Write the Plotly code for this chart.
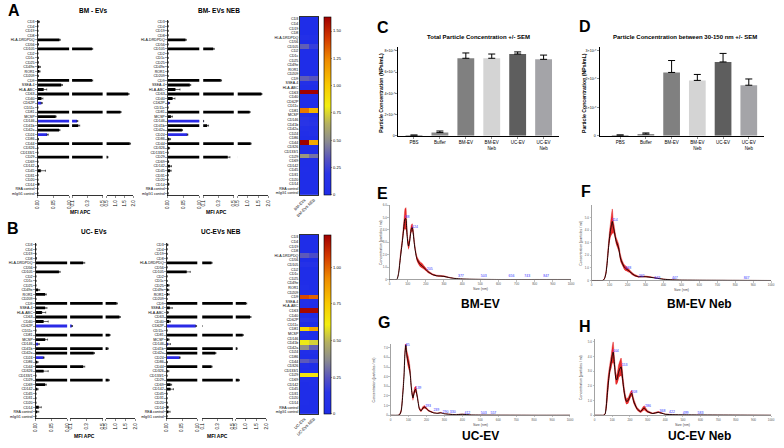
import plotly.graph_objects as go

W, H = 784, 448
def fx(p): return p / W
def fy(p): return 1 - p / H

FONT = "Liberation Sans, Arial, sans-serif"
BLUE = "#2a2ae6"

# ---------------- data: flow-cytometry markers (panels A/B) ----------------
cats = ["CD3", "CD4", "CD19", "CD8", "HLA-DRDPDQ", "CD56", "CD105", "CD2", "CD1c", "CD25",
        "CD49e", "ROR1", "CD209", "CD9", "SSEA-4", "HLA-ABC", "CD63", "CD40", "CD62P", "CD11c",
        "CD81", "MCSP", "CD146", "CD41b", "CD42a", "CD24", "CD86", "CD44", "CD326", "CD133/1",
        "CD29", "CD69", "CD142", "CD45", "CD31", "CD20", "CD14", "REA control", "mIgG1 control"]
blue_cats = ["CD62P", "CD146", "CD24"]

bm_ev = [0.003, 0.001, 0.001, 0.001, 0.069, 0.002, 0.36, 0.001, 0.002, 0.002,
         0.005, 0.005, 0.002, 0.36, 0.075, 0.019, 1.72, 0.012, 0.012, 0.001,
         1.28, 0.057, 0.165, 0.18, 0.068, 0.03, 0.002, 1.8, 0.001, 0.001,
         0.55, 0.001, 0.002, 0.01, 0.001, 0.001, 0.003, 0.001, 0.001]
bm_ev_err = [0.003, 0, 0, 0, 0.003, 0.001, 0.01, 0, 0, 0,
             0.004, 0.003, 0, 0.01, 0.004, 0.01, 0.05, 0.005, 0.003, 0,
             0.04, 0.002, 0.01, 0.02, 0.003, 0.004, 0.001, 0.05, 0, 0,
             0.03, 0, 0.001, 0.015, 0, 0, 0.002, 0, 0]
bm_neb = [0.001, 0.001, 0.001, 0.001, 0.056, 0.001, 0.23, 0.001, 0.001, 0.001,
          0.001, 0.001, 0.001, 0.33, 0.07, 0.024, 1.66, 0.015, 0.004, 0.001,
          1.08, 0.01, 0.102, 0.15, 0.045, 0.062, 0.005, 1.13, 0.004, 0.001,
          0.42, 0.002, 0.007, 0.007, 0.001, 0.001, 0.003, 0.001, 0.001]
bm_neb_err = [0, 0, 0, 0, 0.003, 0, 0.015, 0, 0, 0,
              0, 0, 0, 0.01, 0.003, 0.015, 0.03, 0.008, 0.002, 0,
              0.03, 0.005, 0.004, 0.02, 0.002, 0.002, 0.004, 0.03, 0.002, 0,
              0.03, 0.001, 0.005, 0.004, 0, 0, 0.001, 0, 0]
uc_ev = [0.001, 0.001, 0.001, 0.002, 0.26, 0.001, 0.074, 0.001, 0.001, 0.001,
         0.008, 0.03, 0.001, 1.05, 0.03, 0.02, 1.2, 0.025, 0.12, 0.001,
         0.7, 0.03, 0.008, 0.6, 0.39, 0.025, 0.005, 0.26, 0.025, 0.001,
         0.65, 0.03, 0.005, 0.001, 0.001, 0.001, 0.01, 0.005, 0.001]
uc_ev_err = [0, 0, 0, 0, 0.02, 0, 0.004, 0, 0, 0,
             0.005, 0.004, 0, 0.05, 0.006, 0.012, 0.05, 0.015, 0.01, 0,
             0.03, 0.008, 0.004, 0.04, 0.01, 0.002, 0.003, 0.02, 0.015, 0,
             0.04, 0.004, 0.003, 0, 0, 0, 0.008, 0.005, 0]
uc_neb = [0.002, 0.001, 0.001, 0.001, 0.22, 0.001, 0.065, 0.001, 0.001, 0.005,
          0.004, 0.004, 0.001, 1.0, 0.01, 0.003, 1.2, 0.008, 0.095, 0.001,
          0.84, 0.005, 0.004, 0.55, 0.27, 0.042, 0.001, 0.22, 0.003, 0.001,
          0.65, 0.012, 0.012, 0.001, 0.001, 0.001, 0.003, 0.005, 0.001]
uc_neb_err = [0.002, 0, 0, 0, 0.01, 0, 0.012, 0, 0, 0.003,
              0.003, 0.004, 0, 0.04, 0.008, 0.003, 0.05, 0.004, 0.003, 0,
              0.03, 0.003, 0.008, 0.02, 0.01, 0.002, 0.001, 0.01, 0.004, 0,
              0.03, 0.004, 0.01, 0, 0, 0, 0.002, 0.006, 0]

seg_ranges = [(0, 0.10), (0.10, 0.5), (0.5, 2.0)]
seg_tickvals = [[0, 0.05, 0.10], [0.1, 0.3, 0.5], [0.5, 1.0, 1.5, 2.0]]
seg_ticktext = [["0.00", "0.05", "0.10"], ["0.1", "0.3", "0.5"], ["0.5", "1.0", "1.5", "2.0"]]

# ---------------- data: NTA concentration bars (panels C/D) ----------------
np_cats = ["PBS", "Buffer", "BM-EV", "BM-EV<br>Neb", "UC-EV", "UC-EV<br>Neb"]
total_conc = [0.05, 0.3, 7.3, 7.3, 7.7, 7.2]
total_sem = [0.02, 0.15, 0.5, 0.4, 0.2, 0.4]
small_conc = [0.02, 0.06, 2.23, 1.95, 2.6, 1.78]
small_sem = [0.01, 0.04, 0.42, 0.21, 0.3, 0.22]
np_colors = ["#404040", "#8a8a8a", "#808080", "#d4d4d4", "#5e5e5e", "#a4a4a8"]
c_ticks = [0, 2, 4, 6, 8]
c_ticktext = ["0", "2×10¹⁰", "4×10¹⁰", "6×10¹⁰", "8×10¹⁰"]
d_ticks = [0, 1, 2, 3]
d_ticktext = ["0", "1×10¹⁰", "2×10¹⁰", "3×10¹⁰"]

# ---------------- data: NTA size distributions (panels E-H) ----------------
sizes = [0, 40, 50, 60, 70, 75, 80, 85, 90, 95, 100, 105, 110, 115, 120, 125, 130, 135, 140, 150,
         160, 170, 180, 190, 200, 210, 220, 240, 260, 280, 300, 330, 360, 400, 450, 500, 600, 800, 1000]
e_mean = [0, 0, 0.5, 1.8, 3.0, 3.7, 4.4, 4.9, 4.9, 4.0, 3.0, 2.7, 3.0, 3.6, 4.1, 4.2, 3.8, 3.1, 2.5, 1.7,
          1.4, 1.2, 1.1, 0.95, 0.8, 0.65, 0.55, 0.38, 0.3, 0.28, 0.25, 0.15, 0.08, 0.04, 0.02, 0.01, 0, 0, 0]
e_sem = [0, 0, 0.1, 0.3, 0.3, 0.4, 0.5, 0.8, 0.9, 0.5, 0.3, 0.3, 0.3, 0.3, 0.3, 0.3, 0.3, 0.3, 0.2, 0.2,
         0.2, 0.2, 0.2, 0.15, 0.12, 0.1, 0.08, 0.06, 0.05, 0.05, 0.05, 0.03, 0.02, 0.01, 0, 0, 0, 0, 0]
f_mean = [0, 0, 0, 0, 0.1, 0.3, 0.6, 1.2, 2.0, 2.8, 3.5, 4.0, 4.4, 4.7, 4.3, 4.0, 3.6, 3.2, 3.0, 2.6,
          1.8, 1.4, 1.1, 0.95, 0.85, 0.75, 0.6, 0.4, 0.3, 0.3, 0.3, 0.25, 0.18, 0.1, 0.05, 0.03, 0.02, 0.01, 0]
f_sem = [0, 0, 0, 0, 0.05, 0.1, 0.2, 0.3, 0.4, 0.4, 0.5, 0.6, 0.8, 1.0, 0.5, 0.4, 0.3, 0.3, 0.3, 0.3,
         0.3, 0.2, 0.2, 0.2, 0.15, 0.12, 0.1, 0.08, 0.06, 0.05, 0.05, 0.04, 0.03, 0.02, 0.01, 0, 0, 0, 0]
g_mean = [0, 0, 0.05, 0.5, 2.6, 4.0, 6.3, 7.3, 6.3, 5.8, 5.4, 5.0, 4.2, 3.0, 2.2, 1.8, 2.2, 2.6, 2.7, 1.8,
          0.7, 0.45, 0.75, 0.85, 0.7, 0.5, 0.4, 0.25, 0.2, 0.25, 0.15, 0.1, 0.06, 0.1, 0.03, 0.02, 0.01, 0, 0]
g_sem = [0, 0, 0.02, 0.2, 0.4, 0.4, 0.4, 0.5, 0.5, 0.6, 0.6, 0.5, 0.4, 0.3, 0.3, 0.3, 0.3, 0.3, 0.3, 0.2,
         0.15, 0.1, 0.15, 0.15, 0.1, 0.08, 0.06, 0.05, 0.04, 0.05, 0.03, 0.02, 0.02, 0.03, 0.01, 0, 0, 0, 0]
h_mean = [0, 0, 0, 0.1, 1.2, 1.9, 2.5, 3.0, 3.4, 3.7, 4.1, 4.3, 3.8, 3.1, 2.5, 2.4, 2.6, 2.9, 3.1, 3.3,
          2.3, 1.4, 0.95, 1.0, 1.3, 1.5, 1.0, 0.45, 0.25, 0.5, 0.25, 0.12, 0.2, 0.07, 0.04, 0.03, 0.02, 0.01, 0]
h_sem = [0, 0, 0, 0.05, 0.6, 0.6, 0.5, 0.4, 0.4, 0.5, 0.6, 0.7, 0.5, 0.4, 0.4, 0.3, 0.4, 0.5, 0.5, 0.6,
         0.4, 0.3, 0.2, 0.2, 0.2, 0.2, 0.2, 0.1, 0.08, 0.15, 0.08, 0.04, 0.05, 0.02, 0.01, 0, 0, 0, 0]
e_peaks_x = [88, 124, 205, 377, 503, 656, 743, 847]
e_peaks_y = [5.0, 4.2, 0.8, 0.3, 0.25, 0.25, 0.25, 0.25]
f_peaks_x = [114, 188, 262, 349, 447, 847]
f_peaks_y = [4.8, 1.0, 0.35, 0.2, 0.15, 0.15]
g_peaks_x = [85, 139, 193, 239, 290, 330, 412, 503, 557]
g_peaks_y = [7.3, 2.8, 0.9, 0.55, 0.35, 0.35, 0.25, 0.2, 0.2]
h_peaks_x = [104, 153, 208, 286, 368, 422, 499, 583]
h_peaks_y = [4.4, 3.4, 1.6, 0.6, 0.25, 0.2, 0.15, 0.15]

# ---------------- build ----------------
fig = go.Figure()
layout = {}
ann = []

def axname(kind, i):
    return kind if i == 1 else f"{kind}{i}"

def text(x, y, s, size, bold=False, color="black", angle=0, xanchor="center"):
    ann.append(dict(x=fx(x), y=fy(y), xref="paper", yref="paper", text=(f"<b>{s}</b>" if bold else s),
                    showarrow=False, font=dict(size=size, color=color, family=FONT),
                    textangle=angle, xanchor=xanchor, yanchor="middle"))

bar_colors = [BLUE if c in blue_cats else "black" for c in cats]

def broken_bars(yid, xids, vals, errs, seg_px, top, bot):
    yname = axname("y", yid)
    for xid, (p0, p1), (r0, r1), tv, tt in zip(xids, seg_px, seg_ranges, seg_tickvals, seg_ticktext):
        xname = axname("x", xid)
        fig.add_trace(go.Bar(x=vals, y=cats, orientation="h", width=0.62,
                             marker=dict(color=bar_colors, line_width=0),
                             error_x=dict(type="data", array=errs, arrayminus=[0] * len(errs),
                                          symmetric=False, color="black", thickness=0.6, width=1),
                             xaxis=xname, yaxis=yname, showlegend=False, hoverinfo="skip"))
        layout[axname("xaxis", xid)] = dict(
            domain=[fx(p0), fx(p1)], range=[r0, r1], anchor=yname, showline=True, linecolor="black",
            linewidth=0.8, ticks="outside", ticklen=2, tickwidth=0.6, tickangle=-90, tickvals=tv,
            ticktext=tt, tickfont=dict(size=4.5, family=FONT), showgrid=False, zeroline=False)
    layout[axname("yaxis", yid)] = dict(
        domain=[fy(bot), fy(top)], anchor=axname("x", xids[0]), type="category",
        categoryorder="array", categoryarray=cats, autorange="reversed", showline=True,
        linecolor="black", linewidth=0.8, ticks="outside", ticklen=1.5, tickwidth=0.5,
        tickfont=dict(size=3.6, family=FONT), showgrid=False, zeroline=False)

broken_bars(1, [1, 2, 3], bm_ev, bm_ev_err, [(31, 63), (66, 97), (101, 128)], 17.7, 195.3)
broken_bars(2, [4, 5, 6], bm_neb, bm_neb_err, [(163, 195), (199, 230), (234, 265)], 17.7, 195.3)
broken_bars(3, [7, 8, 9], uc_ev, uc_ev_err, [(29, 61), (64, 97), (100, 130)], 242.7, 420.3)
broken_bars(4, [10, 11, 12], uc_neb, uc_neb_err, [(162, 193), (198, 229), (232, 263)], 242.7, 420.3)

text(88, 9, "BM - EVs", 6.5, True)
text(215, 9, "BM- EVs NEB", 6.5, True)
text(88, 232, "UC- EVs", 6.5, True)
text(217, 232, "UC-EVs NEB", 6.5, True)
for (mx, my) in [(75, 212), (212, 212), (79, 438), (213, 438)]:
    text(mx, my, "MFI APC", 5, True)

# heatmaps
CS = [[0.0, "#1f2de8"], [0.12, "#2a35e6"], [0.2, "#5552c0"], [0.3, "#8a8a90"], [0.4, "#b4b060"],
      [0.5, "#f2ee10"], [0.62, "#f8c800"], [0.76, "#ee8a00"], [0.88, "#d43a00"], [1.0, "#a00000"]]

def heat(xid, yid, v1, v2, labels, zmax, top, bot, cticks):
    fig.add_trace(go.Heatmap(
        z=[[a, b] for a, b in zip(v1, v2)], x=labels, y=cats, colorscale=CS, zmin=0, zmax=zmax,
        xaxis=axname("x", xid), yaxis=axname("y", yid), hoverinfo="skip",
        colorbar=dict(x=fx(322), xanchor="left", y=fy(top), yanchor="top", len=(bot - top) / H,
                      thickness=7, outlinewidth=0.6, outlinecolor="black", ticks="outside",
                      ticklen=1.5, tickwidth=0.5, tickvals=cticks,
                      ticktext=[("0" if t == 0 else f"{t:.2f}") for t in cticks],
                      tickfont=dict(size=4, family=FONT), xpad=0, ypad=0)))
    layout[axname("xaxis", xid)] = dict(domain=[fx(297), fx(316)], anchor=axname("y", yid),
                                        tickangle=-45, tickfont=dict(size=4, family=FONT),
                                        showline=True, mirror=True, linecolor="black", linewidth=0.8,
                                        ticks="", showgrid=False, zeroline=False)
    layout[axname("yaxis", yid)] = dict(domain=[fy(bot), fy(top)], anchor=axname("x", xid),
                                        type="category", categoryorder="array", categoryarray=cats,
                                        autorange="reversed", tickfont=dict(size=3.6, family=FONT),
                                        showline=True, mirror=True, linecolor="black", linewidth=0.8,
                                        ticks="", showgrid=False, zeroline=False)

heat(13, 5, bm_ev, bm_neb, ["BM-EVs", "BM-EVs NEB"], 1.63, 15, 195, [0, 0.25, 0.5, 0.75, 1.0, 1.25, 1.5])
heat(14, 6, uc_ev, uc_neb, ["UC-EVs", "UC-EVs NEB"], 1.22, 235, 416, [0, 0.25, 0.5, 0.75, 1.0])

# C / D bars
def conc(xid, yid, vals, sem, x0, x1, rng, top, bot, yr, tv, tt):
    fig.add_trace(go.Bar(x=np_cats, y=vals, width=0.65, marker=dict(color=np_colors, line_width=0),
                         error_y=dict(type="data", array=sem, arrayminus=[0] * len(sem), symmetric=False,
                                      color="black", thickness=1, width=3.5),
                         xaxis=axname("x", xid), yaxis=axname("y", yid), showlegend=False, hoverinfo="skip"))
    layout[axname("xaxis", xid)] = dict(domain=[fx(x0), fx(x1)], range=rng, anchor=axname("y", yid),
                                        type="category", showline=True, linecolor="black", linewidth=1,
                                        ticks="outside", ticklen=2, tickwidth=0.6,
                                        tickfont=dict(size=4.5, family=FONT), showgrid=False, zeroline=False)
    layout[axname("yaxis", yid)] = dict(domain=[fy(bot), fy(top)], range=yr, anchor=axname("x", xid),
                                        showline=True, linecolor="black", linewidth=1, ticks="outside",
                                        ticklen=2, tickwidth=0.6, tickvals=tv, ticktext=tt,
                                        tickfont=dict(size=3.6, family=FONT), showgrid=False, zeroline=False)

conc(15, 7, total_conc, total_sem, 397, 560, [-0.6, 5.6], 45, 135, [0, 8.4], c_ticks, c_ticktext)
conc(16, 8, small_conc, small_sem, 601, 768, [-0.8, 5.6], 45, 135, [0, 3.14], d_ticks, d_ticktext)
text(478, 35, "Total Particle Concentration +/- SEM", 6, True)
text(688, 35, "Particle Concentration between 30-150 nm +/- SEM", 6, True)
text(380, 92, "Particle Concentration (NPs/mL)", 5.2, True, angle=-90)
text(585, 92, "Particle Concentration (NPs/mL)", 5.2, True, angle=-90)

# E-H NTA size distributions
def nta(xid, yid, x0, x1, top, bot, ymax, mean, sem, px, py, nt, title, tx, ty, ytx):
    xn, yn = axname("x", xid), axname("y", yid)
    lower = [max(m - s, 0) for m, s in zip(mean, sem)]
    upper = [m + s for m, s in zip(mean, sem)]
    fig.add_trace(go.Scatter(x=sizes, y=lower, mode="lines", line=dict(width=0, color="red", shape="spline", smoothing=0.5),
                             xaxis=xn, yaxis=yn, showlegend=False, hoverinfo="skip"))
    fig.add_trace(go.Scatter(x=sizes, y=upper, mode="lines", fill="tonexty", fillcolor="rgba(228,20,20,0.9)",
                             line=dict(width=0.4, color="#e01010", shape="spline", smoothing=0.5),
                             xaxis=xn, yaxis=yn, showlegend=False, hoverinfo="skip"))
    fig.add_trace(go.Scatter(x=sizes, y=mean, mode="lines", line=dict(width=0.9, color="black", shape="spline", smoothing=0.5),
                             xaxis=xn, yaxis=yn, showlegend=False, hoverinfo="skip"))
    fig.add_trace(go.Scatter(x=px, y=py, mode="text", text=[str(v) for v in px], textposition="middle right",
                             textfont=dict(size=3.5, color="#3030ff", family=FONT),
                             xaxis=xn, yaxis=yn, showlegend=False, hoverinfo="skip", cliponaxis=False))
    layout[axname("xaxis", xid)] = dict(domain=[fx(x0), fx(x1)], range=[0, 1000], anchor=yn,
                                        showline=True, linecolor="#666", linewidth=0.6, ticks="outside",
                                        ticklen=1.5, tickwidth=0.4, tickcolor="#666",
                                        tickvals=list(range(0, 1001, 100)),
                                        tickfont=dict(size=3, color="#555", family=FONT),
                                        showgrid=False, zeroline=False)
    layout[axname("yaxis", yid)] = dict(domain=[fy(bot), fy(top)], range=[0, ymax], anchor=xn,
                                        showline=True, linecolor="#666", linewidth=0.6, ticks="outside",
                                        ticklen=1.5, tickwidth=0.4, tickcolor="#666",
                                        tickvals=list(range(0, nt + 1)),
                                        ticktext=["0"] + [f"{v:.1f}" for v in range(1, nt + 1)],
                                        tickfont=dict(size=3, color="#555", family=FONT),
                                        showgrid=False, zeroline=False)
    text((x0 + x1) / 2, bot + 10, "Size (nm)", 3.5, color="#444")
    text(ytx, (top + bot) / 2, "Concentration (particles / ml)", 3.5, color="#444", angle=-90)
    text(tx, ty, title, 12, True)

nta(17, 9, 388, 572, 205, 280, 6.0, e_mean, e_sem, e_peaks_x, e_peaks_y, 6, "BM-EV", 480, 305, 380)
nta(18, 10, 593, 775, 205, 281, 6.0, f_mean, f_sem, f_peaks_x, f_peaks_y, 5, "BM-EV Neb", 702, 305, 582)
nta(19, 11, 389, 571, 345, 417, 7.4, g_mean, g_sem, g_peaks_x, g_peaks_y, 7, "UC-EV", 480, 438, 372)
nta(20, 12, 596, 775, 340, 417, 5.2, h_mean, h_sem, h_peaks_x, h_peaks_y, 5, "UC-EV Neb", 702, 438, 582)

# panel letters
for L, x, y in [("A", 7, 9), ("B", 6, 229), ("C", 381, 26), ("D", 586, 25),
                ("E", 381, 193), ("F", 587, 191), ("G", 382, 323), ("H", 586, 327)]:
    text(x, y, L, 16, True)

fig.update_layout(width=W, height=H, margin=dict(l=0, r=0, t=0, b=0), paper_bgcolor="white",
                  plot_bgcolor="white", font=dict(family=FONT, color="black"), annotations=ann,
                  barmode="overlay", **layout)
fig.write_html("out.html", config={"displayModeBar": False, "staticPlot": True},
               post_script="document.body.style.margin='0';document.body.style.overflow='hidden';")
